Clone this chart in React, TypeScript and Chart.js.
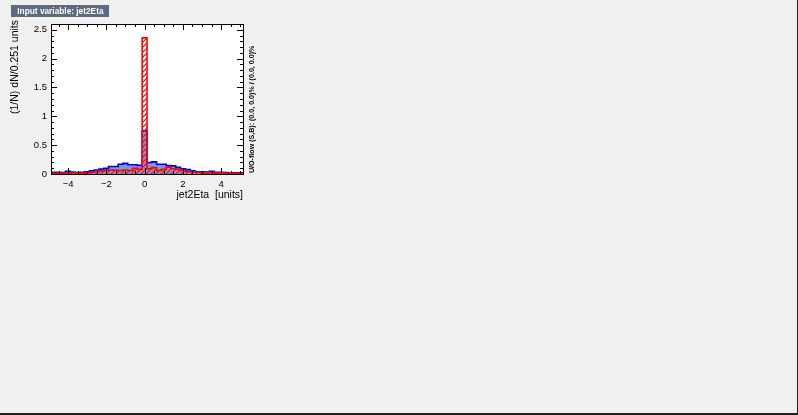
import React, { useEffect, useRef } from "react";
import { Chart, registerables } from "chart.js";
Chart.register(...registerables);

const TITLE = "Input variable: jet2Eta";
const X_TITLE = "jet2Eta  [units]";
const Y_TITLE = "(1/N) dN/0.251 units";
const OVERFLOW_TEXT = "U/O-flow (S,B): (0.0, 0.0)% / (0.0, 0.0)%";

const BIN_WIDTH = 0.251;
const X_MIN = -4.8945;
const X_MAX = 5.1455;
const Y_MAX = 2.6;

const X_TICKS = [-4, -2, 0, 2, 4];
const X_TICK_LABELS = ["\u22124", "\u22122", "0", "2", "4"];
const Y_TICKS = [0, 0.5, 1, 1.5, 2, 2.5];
const Y_TICK_LABELS = ["0", "0.5", "1", "1.5", "2", "2.5"];

// background (blue, filled)
const BACKGROUND = [
  0.03, 0.03, 0.025, 0.045, 0.035, 0.025, 0.03, 0.04, 0.055, 0.07,
  0.085, 0.1, 0.13, 0.13, 0.17, 0.185, 0.16, 0.16, 0.15, 0.75,
  0.2, 0.21, 0.17, 0.17, 0.145, 0.14, 0.115, 0.09, 0.075, 0.055,
  0.04, 0.04, 0.035, 0.045, 0.03, 0.03, 0.025, 0.02, 0.02, 0.02,
];
// signal (red, hatched)
const SIGNAL = [
  0.01, 0.01, 0.015, 0.01, 0.02, 0.01, 0.015, 0.02, 0.03, 0.04,
  0.05, 0.06, 0.07, 0.065, 0.06, 0.07, 0.06, 0.1, 0.08, 2.36,
  0.09, 0.11, 0.06, 0.08, 0.12, 0.09, 0.08, 0.06, 0.045, 0.035,
  0.03, 0.02, 0.02, 0.03, 0.015, 0.02, 0.01, 0.015, 0.01, 0.01,
];

const FONT = "'Liberation Sans', Arial, Helvetica, sans-serif";

function stepPoints(values: number[]) {
  const pts: { x: number; y: number }[] = [{ x: X_MIN, y: 0 }];
  values.forEach((v, i) => pts.push({ x: X_MIN + i * BIN_WIDTH, y: v }));
  const end = X_MIN + values.length * BIN_WIDTH;
  pts.push({ x: end, y: values[values.length - 1] });
  pts.push({ x: end, y: 0 });
  return pts;
}

function makeHatch(color: string) {
  const c = document.createElement("canvas");
  const s = 5;
  c.width = s;
  c.height = s;
  const g = c.getContext("2d")!;
  g.strokeStyle = color;
  g.lineWidth = 1.1;
  g.beginPath();
  g.moveTo(-1, s + 1);
  g.lineTo(s + 1, -1);
  g.moveTo(-1, 1);
  g.lineTo(1, -1);
  g.moveTo(s - 1, s + 1);
  g.lineTo(s + 1, s - 1);
  g.stroke();
  return g.createPattern(c, "repeat")!;
}

const decorPlugin = {
  id: "decor",
  beforeDraw(chart: any) {
    const { ctx, chartArea: a, width, height } = chart;
    ctx.save();
    ctx.fillStyle = "#f0f0f0";
    ctx.fillRect(0, 0, width, height);
    ctx.fillStyle = "#ffffff";
    ctx.fillRect(a.left, a.top, a.right - a.left, a.bottom - a.top);
    ctx.restore();
  },
  afterDraw(chart: any) {
    const { ctx, chartArea: a, width, height } = chart;
    const xs = chart.scales.x;
    const ys = chart.scales.y;
    ctx.save();
    // frame
    ctx.strokeStyle = "#000";
    ctx.lineWidth = 1;
    ctx.strokeRect(Math.round(a.left) + 0.5, Math.round(a.top) + 0.5, Math.round(a.right - a.left), Math.round(a.bottom - a.top));
    // ticks
    ctx.beginPath();
    for (let k = 0; k <= 26; k++) {
      const v = k * 0.1;
      const y = Math.round(ys.getPixelForValue(v)) + 0.5;
      const major = k % 5 === 0;
      const len = major ? 6 : 3;
      ctx.moveTo(a.left, y);
      ctx.lineTo(a.left + len, y);
      ctx.moveTo(a.right, y);
      ctx.lineTo(a.right - len, y);
    }
    for (let k = -9; k <= 10; k++) {
      const v = k * 0.5;
      if (v < X_MIN || v > X_MAX) continue;
      const x = Math.round(xs.getPixelForValue(v)) + 0.5;
      const major = k % 4 === 0;
      const len = major ? 6 : 3;
      ctx.moveTo(x, a.bottom);
      ctx.lineTo(x, a.bottom - len);
      ctx.moveTo(x, a.top);
      ctx.lineTo(x, a.top + len);
    }
    ctx.stroke();
    // tick labels
    ctx.fillStyle = "#000";
    ctx.font = `9.5px ${FONT}`;
    ctx.textAlign = "right";
    ctx.textBaseline = "middle";
    Y_TICKS.forEach((v, i) => {
      ctx.fillText(Y_TICK_LABELS[i], a.left - 4, ys.getPixelForValue(v));
    });
    ctx.textAlign = "center";
    ctx.textBaseline = "alphabetic";
    X_TICKS.forEach((v, i) => {
      ctx.fillText(X_TICK_LABELS[i], xs.getPixelForValue(v), a.bottom + 12.5);
    });
    // axis titles
    ctx.font = `10.5px ${FONT}`;
    ctx.textAlign = "right";
    ctx.fillText(X_TITLE, a.right, a.bottom + 23.5);
    ctx.save();
    ctx.translate(15, a.top - 4);
    ctx.rotate(-Math.PI / 2);
    ctx.textAlign = "right";
    ctx.textBaseline = "middle";
    ctx.fillText(Y_TITLE, 0, 0);
    ctx.restore();
    // overflow text
    ctx.save();
    ctx.translate(252.5, a.bottom - 1);
    ctx.rotate(-Math.PI / 2);
    ctx.font = `bold 7.1px ${FONT}`;
    ctx.textAlign = "left";
    ctx.textBaseline = "middle";
    ctx.fillText(OVERFLOW_TEXT, 0, 0);
    ctx.restore();
    // title box
    ctx.fillStyle = "#5d6b82";
    ctx.fillRect(11, 5, 98, 12);
    ctx.fillStyle = "#ffffff";
    ctx.font = `bold 8.3px ${FONT}`;
    ctx.textAlign = "left";
    ctx.textBaseline = "middle";
    ctx.fillText(TITLE, 17.3, 11.3);
    // window border
    ctx.fillStyle = "#202020";
    ctx.fillRect(0, height - 2, width, 2);
    ctx.fillRect(width - 1, 0, 1, height);
    ctx.restore();
  },
};

export default function App() {
  const ref = useRef<HTMLCanvasElement>(null);
  useEffect(() => {
    const canvas = ref.current!;
    const chart = new Chart(canvas, {
      type: "line",
      data: {
        datasets: [
          {
            label: "Signal",
            data: stepPoints(SIGNAL),
            stepped: "before",
            borderColor: "#ff0000",
            borderWidth: 1.6,
            backgroundColor: makeHatch("#ff0000"),
            fill: "origin",
            pointRadius: 0,
          },
          {
            label: "Background",
            data: stepPoints(BACKGROUND),
            stepped: "before",
            borderColor: "#0000ee",
            borderWidth: 1.6,
            backgroundColor: "#7d99d1",
            fill: "origin",
            pointRadius: 0,
          },
        ],
      } as any,
      options: {
        animation: false,
        responsive: false,
        devicePixelRatio: 1,
        layout: { padding: { left: 51, top: 24, right: 798 - 243, bottom: 415 - 174 } },
        plugins: { legend: { display: false }, tooltip: { enabled: false } },
        scales: {
          x: { type: "linear", min: X_MIN, max: X_MAX, display: false },
          y: { type: "linear", min: 0, max: Y_MAX, display: false },
        },
      },
      plugins: [decorPlugin],
    });
    return () => chart.destroy();
  }, []);
  return (
    <div style={{ position: "fixed", left: 0, top: 0, width: 798, height: 415 }}>
      <canvas ref={ref} width={798} height={415} style={{ display: "block" }} />
    </div>
  );
}
